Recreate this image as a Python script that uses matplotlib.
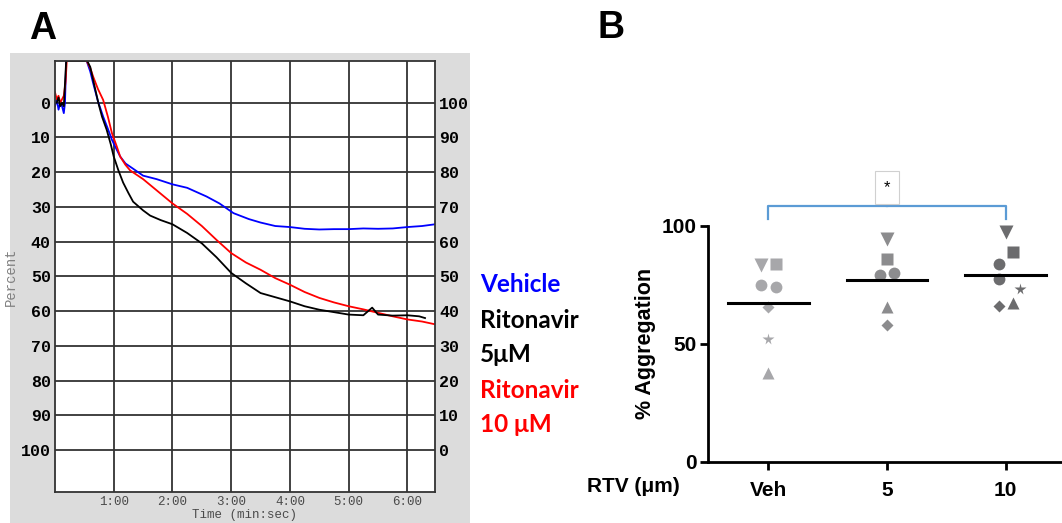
import numpy as np
import matplotlib
matplotlib.use("Agg")
import matplotlib.pyplot as plt
from matplotlib.patches import Rectangle

# ---- panel A: aggregometer traces (percent) ----
t_blue = [0, 0.03, 0.06, 0.09, 0.12, 0.15, 0.17, 0.19, 0.54, 0.6, 0.65, 0.73, 0.82, 0.9,
          0.97, 1.05, 1.11, 1.2, 1.33, 1.5, 1.73, 2.0, 2.25, 2.58, 2.8, 3.04, 3.3, 3.5,
          3.75, 4.0, 4.25, 4.5, 4.75, 5.0, 5.25, 5.5, 5.75, 6.0, 6.25, 6.47]
v_blue = [1, -1, 2, 0, 1, 3, 0, -12, -12, -9, -5.6, -0.5, 4, 7.5,
          10.7, 13.5, 15.5, 17.5, 19, 21, 22, 23.5, 24.5, 27, 29, 31.8, 33.5, 34.5,
          35.5, 35.8, 36.3, 36.5, 36.4, 36.4, 36.2, 36.3, 36.2, 35.8, 35.5, 35.0]

t_red = [0, 0.03, 0.06, 0.09, 0.12, 0.15, 0.18, 0.2, 0.54, 0.6, 0.65, 0.73, 0.82, 0.9,
         0.97, 1.05, 1.11, 1.2, 1.28, 1.5, 1.75, 2.0, 2.25, 2.5, 2.75, 3.0, 3.25, 3.5,
         3.75, 4.0, 4.25, 4.5, 4.75, 5.0, 5.25, 5.5, 5.75, 6.0, 6.25, 6.47]
v_red = [-3, -1, -2, 0, -1, -2, -6, -12, -12, -10, -7.5, -4, -0.8, 4,
         8.8, 12.5, 15.5, 17.9, 19.5, 22, 25.5, 29, 32, 35.5, 39.5, 43.3, 46, 48.1,
         50.5, 52.4, 54.5, 56.2, 57.5, 58.6, 59.5, 60.5, 61.5, 62.4, 63, 63.8]

t_black = [0.03, 0.06, 0.09, 0.12, 0.15, 0.19, 0.55, 0.6, 0.67, 0.74, 0.8, 0.88, 0.95,
           1.0, 1.08, 1.16, 1.25, 1.33, 1.5, 1.62, 1.8, 2.0, 2.25, 2.5, 2.75, 3.0, 3.25,
           3.5, 3.75, 4.0, 4.25, 4.5, 4.75, 5.0, 5.25, 5.4, 5.5, 5.75, 6.0, 6.2, 6.3]
v_black = [0, -1.5, 1, 0, 1, -12, -12, -10.3, -5, 0.2, 4, 7.8, 12,
           15.5, 19.5, 23, 26, 28.5, 31, 32.5, 33.8, 35, 37.5, 40.5, 44.5, 49, 52,
           54.8, 56, 57.2, 58.6, 59.6, 60.3, 61, 61.2, 59, 61, 61.3, 61.2, 61.5, 62]

a_yticks = list(range(0, 101, 10))
a_xticks = [1, 2, 3, 4, 5, 6]
a_xlabels = ["1:00", "2:00", "3:00", "4:00", "5:00", "6:00"]

# ---- panel B: % aggregation per donor ----
groups = ["Veh", "5", "10"]
veh_vals = [83.3, 83.9, 74.9, 73.9, 65.7, 52.0, 37.7]
veh_marks = ["v", "s", "o", "o", "D", "*", "^"]
veh_offs = [-0.065, 0.06, -0.065, 0.06, 0, 0, 0]
five_vals = [94.2, 85.9, 79.1, 80.0, 65.7, 57.9]
five_marks = ["v", "s", "o", "o", "^", "D"]
five_offs = [0, 0, -0.06, 0.06, 0, 0]
ten_vals = [97.5, 88.9, 83.9, 77.3, 73.0, 66.0, 67.1]
ten_marks = ["v", "s", "o", "o", "*", "D", "^"]
ten_offs = [0, 0.06, -0.06, -0.06, 0.12, -0.06, 0.06]
group_colors = ["#a7a7aa", "#8c8c8e", "#6c6c6e"]

mono = "Liberation Mono"
arial = "Liberation Sans"

fig = plt.figure(figsize=(10.62, 5.23), dpi=100)

# gray instrument background
fig.patches.append(Rectangle((10 / 1062, 0), 460 / 1062, 470 / 523,
                             transform=fig.transFigure, facecolor="#dcdcdc",
                             edgecolor="none", zorder=-5))

axA = fig.add_axes([55 / 1062, 1 - 491.7 / 523, 380 / 1062, 431 / 523])
axA.set_facecolor("white")
axA.plot(t_blue, v_blue, color="#0000ff", lw=1.3)
axA.plot(t_red, v_red, color="#ff0000", lw=1.3)
axA.plot(t_black, v_black, color="black", lw=1.3)
axA.set_xlim(0, 6.47)
axA.set_ylim(112, -12.1)
axA.set_yticks(a_yticks)
axA.set_yticklabels([str(v) for v in a_yticks], fontfamily=mono,
                    fontweight="bold", fontsize=12)
axA.set_xticks(a_xticks)
axA.set_xticklabels(a_xlabels, fontfamily=mono, fontsize=9, color="#4a4a4a")
axA.tick_params(length=0, pad=3)
axA.grid(True, color="#333333", lw=1.3)
for s in axA.spines.values():
    s.set_color("#333333")
    s.set_linewidth(1.3)
axA.set_xlabel("Time (min:sec)", fontfamily=mono, fontsize=9, color="#4a4a4a",
               labelpad=1)
axA.set_ylabel("Percent", fontfamily=mono, fontsize=10, color="#808080", labelpad=2)

axA2 = axA.twinx()
axA2.set_ylim(100 - 112, 100 + 12.1)
axA2.set_yticks(a_yticks)
axA2.set_yticklabels([str(v) for v in a_yticks], fontfamily=mono,
                     fontweight="bold", fontsize=12)
axA2.tick_params(length=0, pad=3)
for s in axA2.spines.values():
    s.set_visible(False)

# legend text
leg = [("Vehicle", "#0000ff", 285), ("Ritonavir", "black", 320),
       ("5\u03bcM", "black", 354), ("Ritonavir", "#ff0000", 390),
       ("10 \u03bcM", "#ff0000", 425)]
for txt, col, y in leg:
    fig.text(480 / 1062, 1 - y / 523, txt, color=col, fontsize=17.5,
             fontweight="bold", family="Lato", va="center", ha="left")

fig.text(29 / 1062, 1 - 39.3 / 523, "A", fontsize=27, fontweight="bold",
         family=arial, va="baseline")
fig.text(598 / 1062, 1 - 38.3 / 523, "B", fontsize=27, fontweight="bold",
         family=arial, va="baseline")

# ---- panel B ----
axB = fig.add_axes([708 / 1062, 1 - 461.7 / 523, 354 / 1062, 236 / 523])
all_vals = [veh_vals, five_vals, ten_vals]
all_marks = [veh_marks, five_marks, ten_marks]
all_offs = [veh_offs, five_offs, ten_offs]
sizes = {"v": 9.5, "s": 8.5, "o": 8.5, "D": 6.5, "*": 8.5, "^": 8.5}
for i, (vals, marks, offs) in enumerate(zip(all_vals, all_marks, all_offs)):
    for v, m, o in zip(vals, marks, offs):
        axB.plot(i + o, v, marker=m, ms=sizes[m], color=group_colors[i],
                 mec="none", ls="none", clip_on=False)
    mu = np.mean(vals)
    axB.plot([i - 0.34, i + 0.34], [mu, mu], color="black", lw=2.2, zorder=3)

axB.set_xlim(-0.51, 2.475)
axB.set_ylim(0, 100)
axB.set_yticks([0, 50, 100])
axB.set_yticklabels(["0", "50", "100"], fontsize=15, fontweight="bold", family=arial)
axB.set_xticks([0, 1, 2])
axB.set_xticklabels(groups, fontsize=15, fontweight="bold", family=arial)
axB.tick_params(width=2, length=6, pad=2)
axB.tick_params(axis="x", pad=8)
for s in ["top", "right"]:
    axB.spines[s].set_visible(False)
axB.spines["left"].set_linewidth(2)
axB.spines["bottom"].set_linewidth(2)
axB.set_ylabel("% Aggregation", fontsize=15.5, fontweight="bold", family=arial,
               labelpad=4)

# significance bracket
bc = "#5b9bd5"
axB.plot([0, 0, 2, 2], [102.8, 108.5, 108.5, 102.8], color=bc, lw=1.6, clip_on=False)
axB.plot([1, 1], [108.5, 110.5], color=bc, lw=1.6, clip_on=False)
axB.text(1, 116.2, "*", ha="center", va="center", fontsize=12, family=arial,
         bbox=dict(boxstyle="square,pad=0.55", fc="white", ec="#d0d0d0", lw=0.8))

fig.text(587 / 1062, 1 - 487 / 523, "RTV (\u03bcm)", fontsize=15, fontweight="bold",
         family=arial, va="center", ha="left")

fig.savefig("out.png", dpi=100)
